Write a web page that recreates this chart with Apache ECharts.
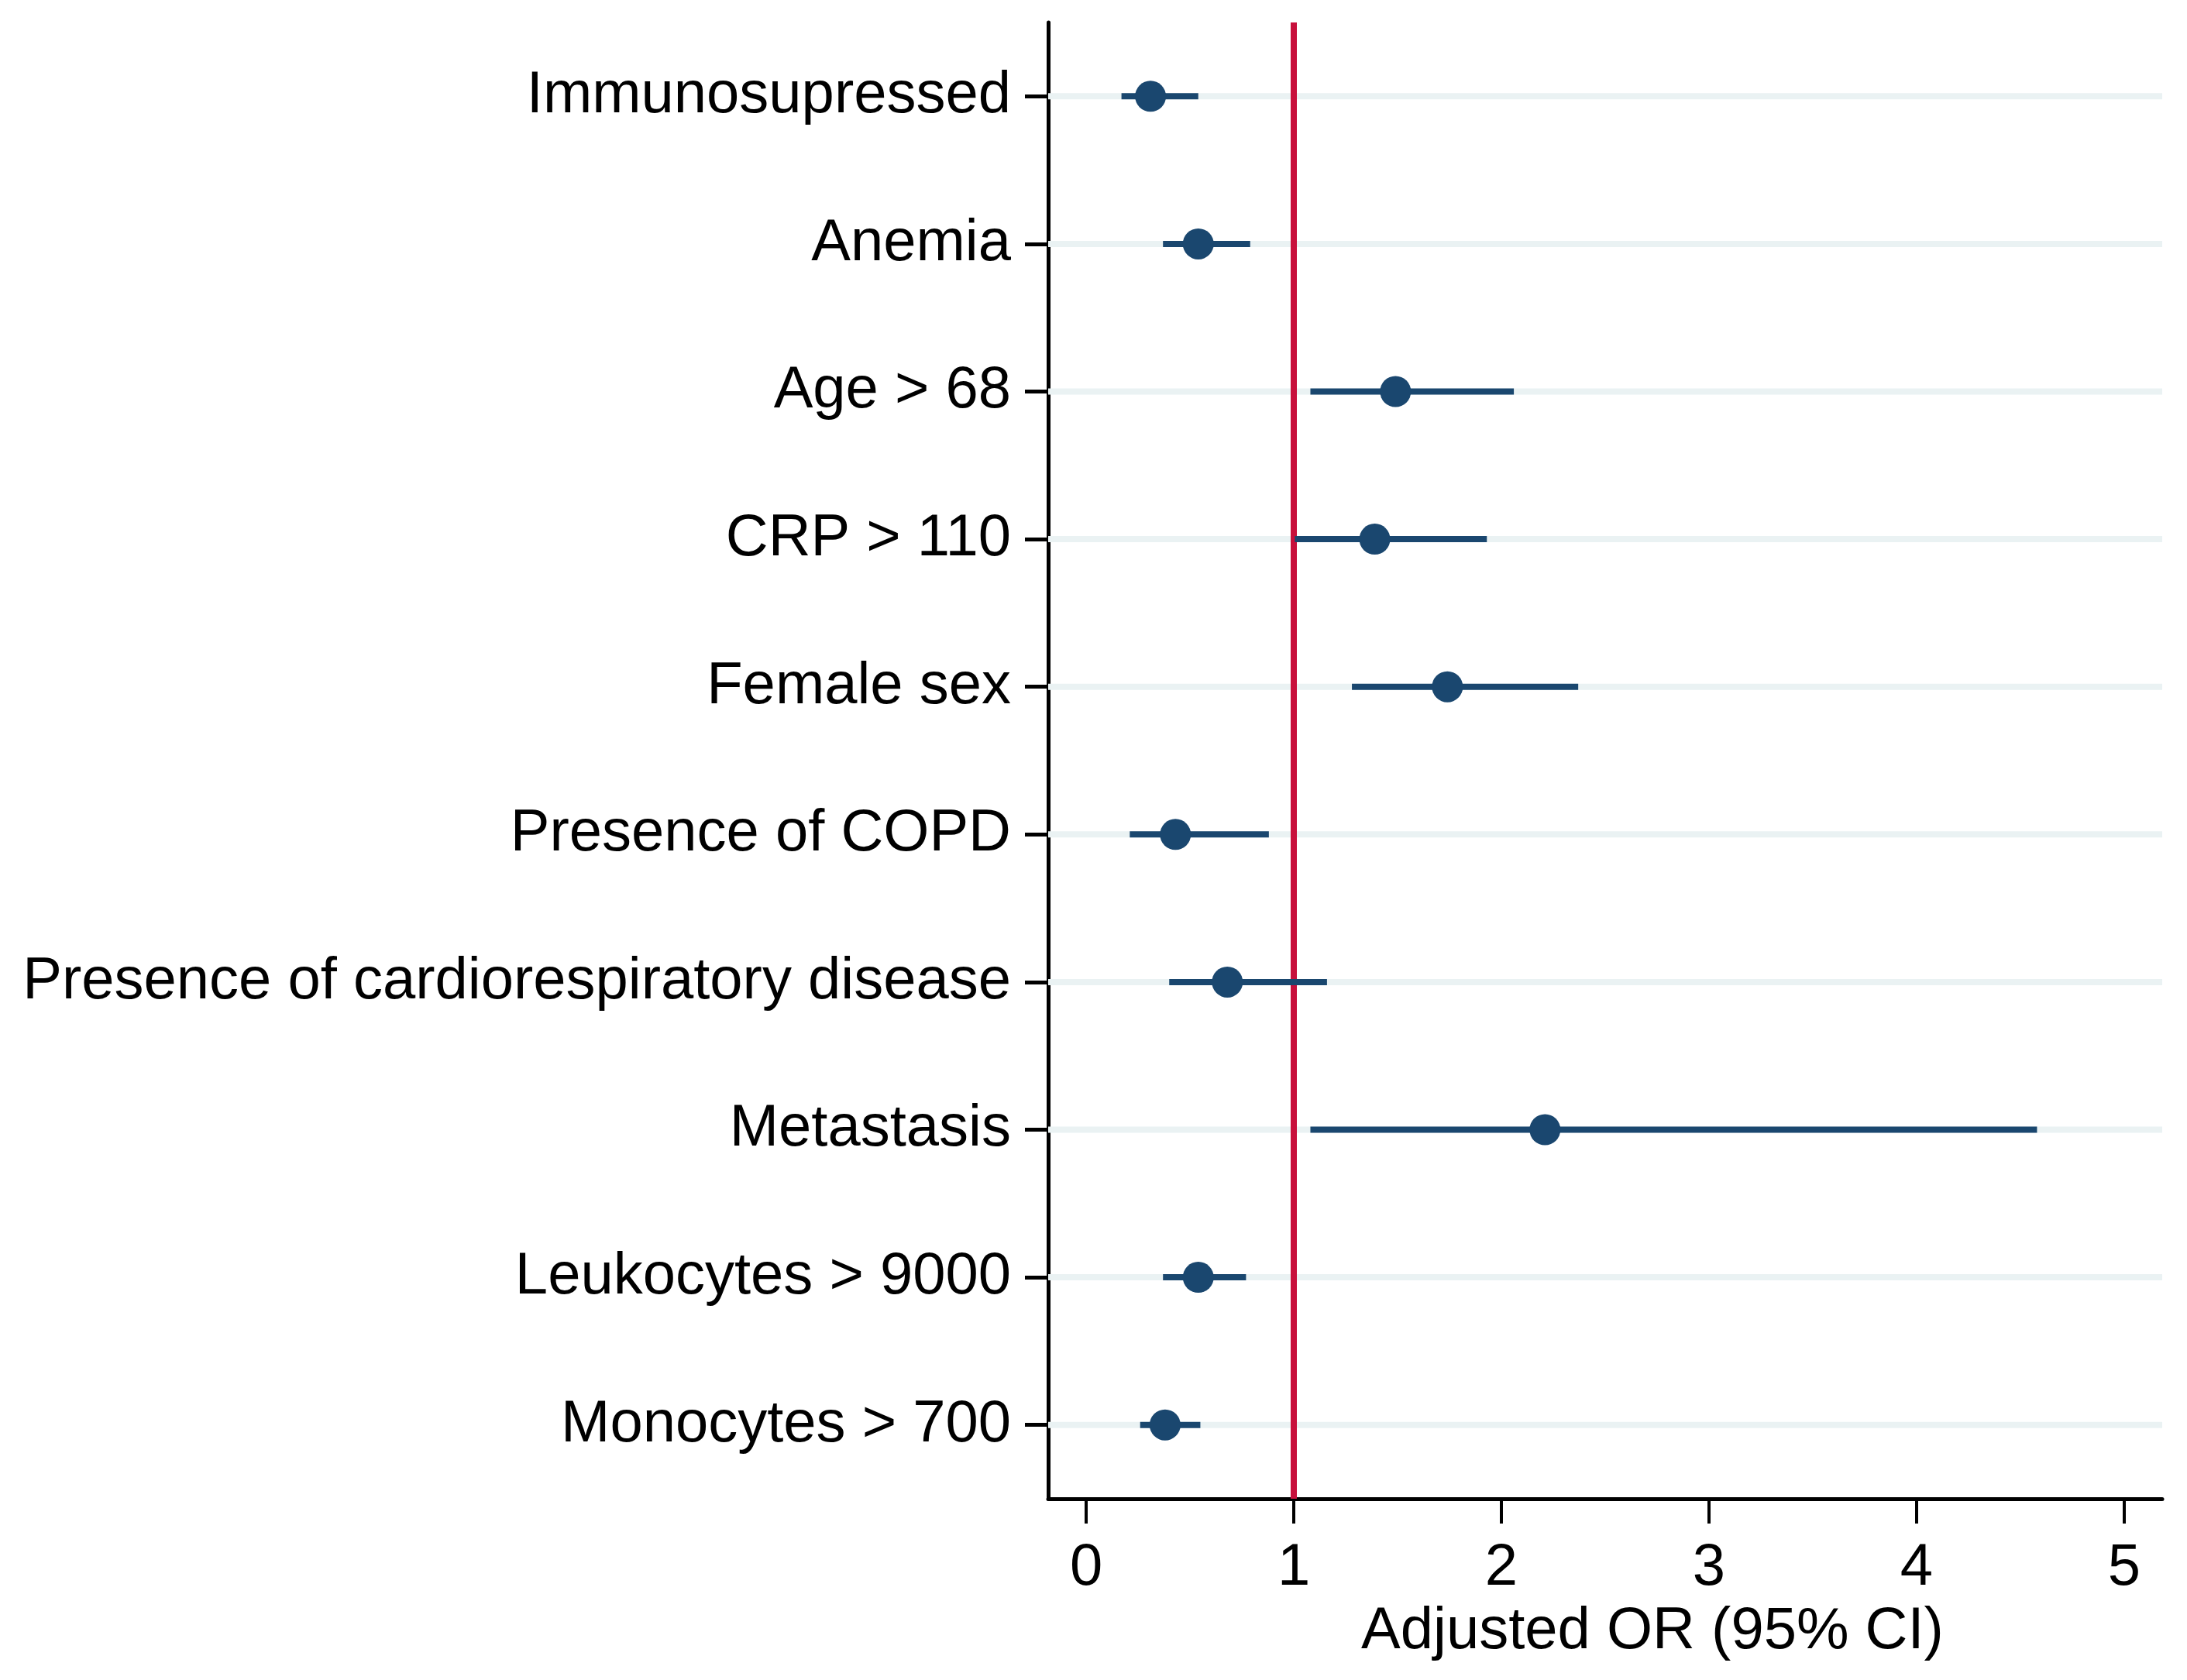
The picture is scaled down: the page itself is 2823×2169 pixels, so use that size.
<!DOCTYPE html>
<html>
<head>
<meta charset="utf-8">
<script src="https://cdn.jsdelivr.net/npm/echarts@6/dist/echarts.min.js"></script>
<style>
html,body{margin:0;padding:0;background:#fff;}
#chart{width:2823px;height:2169px;}
</style>
</head>
<body>
<div id="chart"></div>
<script>
const categories = [
  "Immunosupressed",
  "Anemia",
  "Age > 68",
  "CRP > 110",
  "Female sex",
  "Presence of COPD",
  "Presence of cardiorespiratory disease",
  "Metastasis",
  "Leukocytes > 9000",
  "Monocytes > 700"
];
const orValues = [0.31, 0.54, 1.49, 1.39, 1.74, 0.43, 0.68, 2.21, 0.54, 0.38];
const ciLower  = [0.17, 0.37, 1.08, 1.005, 1.28, 0.21, 0.40, 1.08, 0.37, 0.26];
const ciUpper  = [0.54, 0.79, 2.06, 1.93, 2.37, 0.88, 1.16, 4.58, 0.77, 0.55];
const xTicks = [0, 1, 2, 3, 4, 5];
const refLine = 1;
const xTitle = "Adjusted OR (95% CI)";

const NAVY = "#1A476F";
const RED = "#C8103C";
const GRID = "#EAF2F3";
const FONT = "Liberation Sans, Arial, Helvetica, sans-serif";

const chart = echarts.init(document.getElementById('chart'), null, {renderer: 'canvas'});

const option = {
  animation: false,
  backgroundColor: '#ffffff',
  grid: {left: 1353, right: 32, top: 29, bottom: 234, containLabel: false},
  xAxis: {
    type: 'value',
    min: -0.183,
    max: 5.183,
    name: xTitle,
    nameLocation: 'middle',
    nameGap: 134,
    nameTextStyle: {fontSize: 76, color: '#000', fontFamily: FONT, padding: [0, 0, 0, 122]},
    axisLine: {show: true, onZero: false, lineStyle: {color: '#000', width: 5}},
    axisTick: {show: true, customValues: xTicks, length: 32, lineStyle: {color: '#000', width: 4}},
    axisLabel: {show: true, customValues: xTicks, margin: 52, fontSize: 76, color: '#000', fontFamily: FONT},
    splitLine: {show: false}
  },
  yAxis: {
    type: 'category',
    data: categories,
    inverse: true,
    axisLine: {show: true, onZero: false, lineStyle: {color: '#000', width: 5}},
    axisTick: {show: true, alignWithLabel: true, length: 30, lineStyle: {color: '#000', width: 5}},
    axisLabel: {margin: 48, fontSize: 76, color: '#000', fontFamily: FONT, interval: 0, padding: [10, 0, 0, 0]},
    splitLine: {show: false}
  },
  series: [
    {
      type: 'custom',
      name: 'grid',
      z: 1,
      silent: true,
      data: categories.map((c, i) => [0, i]),
      encode: {x: 0, y: 1},
      renderItem: function (params, api) {
        const y = api.coord([0, api.value(1)])[1];
        const cs = params.coordSys;
        return {
          type: 'line',
          shape: {x1: cs.x, y1: y, x2: cs.x + cs.width, y2: y},
          style: {stroke: GRID, lineWidth: 8}
        };
      }
    },
    {
      type: 'custom',
      name: 'ci',
      z: 3,
      data: categories.map((c, i) => [ciLower[i], ciUpper[i], i]),
      encode: {x: [0, 1], y: 2},
      renderItem: function (params, api) {
        const p1 = api.coord([api.value(0), api.value(2)]);
        const p2 = api.coord([api.value(1), api.value(2)]);
        return {
          type: 'line',
          shape: {x1: p1[0], y1: p1[1], x2: p2[0], y2: p2[1]},
          style: {stroke: NAVY, lineWidth: 8}
        };
      }
    },
    {
      type: 'scatter',
      name: 'or',
      z: 4,
      symbol: 'circle',
      symbolSize: 40,
      itemStyle: {color: NAVY, opacity: 1},
      data: categories.map((c, i) => [orValues[i], i]),
      markLine: {
        silent: true,
        symbol: ['none', 'none'],
        label: {show: false},
        lineStyle: {color: RED, width: 8, type: 'solid'},
        z: 2,
        data: [{xAxis: refLine}]
      }
    }
  ]
};
chart.setOption(option);
</script>
</body>
</html>
